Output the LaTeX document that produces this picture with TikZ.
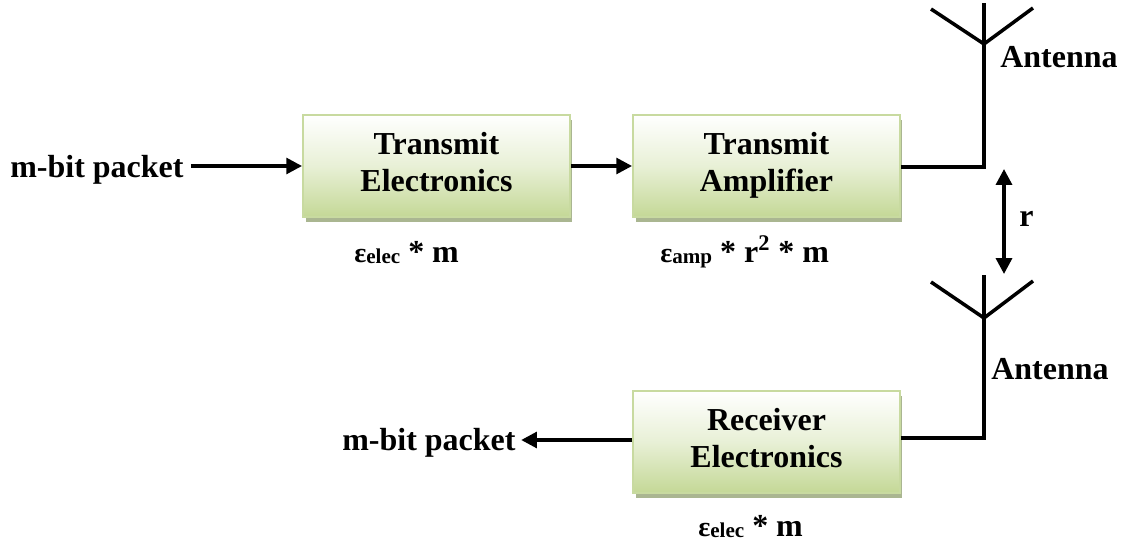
\documentclass[tikz,border=0pt]{standalone}
\usepackage{fontspec}
\setmainfont{Liberation Serif}
\usetikzlibrary{positioning,arrows.meta,shadows}

\tikzset{
  blockbox/.style={draw=boxedge, line width=1.1pt, top color=white, bottom color=boxfill, middle color=boxmid,
    minimum width=5.34cm, minimum height=2.04cm, inner sep=0pt, align=center, text depth=4.5pt,
    font=\fontsize{18.2}{21}\selectfont\bfseries,
    drop shadow={shadow xshift=0.05cm, shadow yshift=-0.1cm, fill=boxshadow, opacity=1}},
  lbl/.style={inner sep=0pt, anchor=base west, font=\fontsize{18.2}{21}\selectfont\bfseries},
  wire/.style={black, line width=2pt},
  arr/.style={wire, -{Triangle[length=9pt,width=9pt]}}
}
\definecolor{boxedge}{RGB}{200,218,160}
\definecolor{boxfill}{RGB}{196,216,150}
\definecolor{boxmid}{RGB}{232,240,214}
\definecolor{boxshadow}{RGB}{170,182,145}
\newcommand{\costsym}[1]{{\fontsize{16}{18}\selectfont ε\fontsize{12}{14}\selectfont\raisebox{-1pt}{#1}}}

\begin{document}
\begin{tikzpicture}[x=0.02cm,y=0.02cm]
\useasboundingbox (0,0) rectangle (1123,-544);
% blocks
\node [blockbox] (txelec) at (436.5,-166) {Transmit\\Electronics};
\node [blockbox] (txamp) at (766.5,-166) {Transmit\\Amplifier};
\node [blockbox] (rxelec) at (766.5,-442) {Receiver\\Electronics};
% packet labels
\node [lbl] (pktin) at (10,-177) {m-bit packet};
\node [lbl] (pktout) at (342,-450) {m-bit packet};
% cost labels
\node [lbl] (costa) at (354,-262) {\costsym{elec} * m};
\node [lbl] (costb) at (660,-262) {\costsym{amp} * r\textsuperscript{2} * m};
\node [lbl] (costc) at (698,-536) {\costsym{elec} * m};
% antennas
\coordinate (tip1) at (984,-3);
\coordinate (hub1) at (984,-44);
\coordinate (left1) at (931,-9);
\coordinate (right1) at (1033,-8);
\coordinate (foot1) at (984,-167);
\coordinate (tip2) at (984,-275);
\coordinate (hub2) at (984,-318);
\coordinate (left2) at (931,-282);
\coordinate (right2) at (1033,-281);
\coordinate (foot2) at (984,-438);
\node [lbl] (ant1) at (1000,-68) {Antenna};
\node [lbl] (ant2) at (991,-379) {Antenna};
\node [lbl] (dist) at (1019,-226) {r};
\coordinate (rtop) at (1004,-169);
\coordinate (rbot) at (1004,-274);
% connectors
\draw [arr, shorten <=4pt] (pktin.east |- txelec) -- (txelec);
\draw [arr] (txelec) -- (txamp);
\draw [arr, shorten >=3pt] (rxelec.west |- 0,-440) -- (pktout.east |- 0,-440);
\draw [wire] (txamp.east |- foot1) -- (foot1) -- (tip1);
\draw [wire] (left1) -- (hub1) -- (right1);
\draw [wire] (rxelec.east |- foot2) -- (foot2) -- (tip2);
\draw [wire] (left2) -- (hub2) -- (right2);
\draw [arr, {Triangle[length=9pt,width=9pt]}-{Triangle[length=9pt,width=9pt]}] (rtop) -- (rbot);
\end{tikzpicture}
\end{document}
